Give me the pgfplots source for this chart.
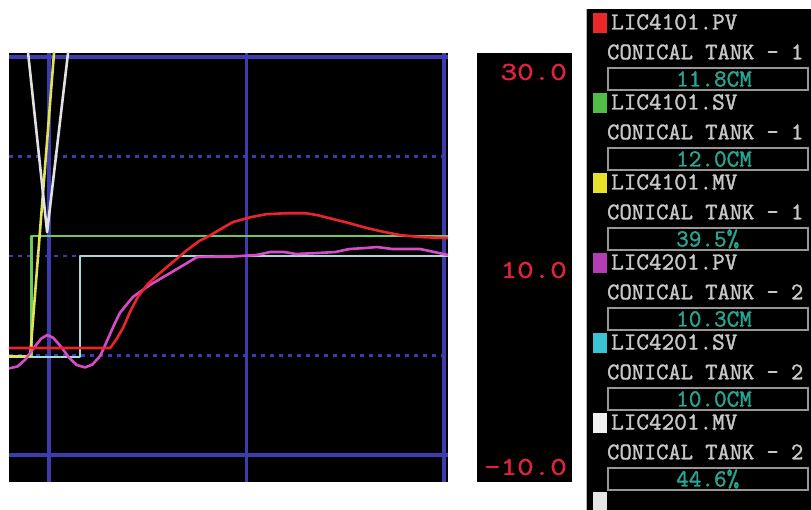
\documentclass[border=0pt]{standalone}
\usepackage{graphicx}
\usepackage{fontspec}
\newfontfamily\tagfont{Latin Modern Mono}[FakeBold=1.6]
\usepackage{pgfplots}
\pgfplotsset{compat=1.18}

% trend display palette
\definecolor{gridblue}{RGB}{60,60,175}
\definecolor{pvred}{RGB}{235,35,45}
\definecolor{svgreen}{RGB}{110,200,95}
\definecolor{mvyellow}{RGB}{225,225,90}
\definecolor{pvmag}{RGB}{215,75,200}
\definecolor{svcyan}{RGB}{165,215,215}
\definecolor{mvwhite}{RGB}{225,225,225}
\definecolor{scalered}{RGB}{225,35,60}
\definecolor{tagtext}{RGB}{200,200,200}
\definecolor{valteal}{RGB}{40,165,145}
\definecolor{boxgrey}{RGB}{150,150,150}
\definecolor{sqred}{RGB}{235,40,40}
\definecolor{sqgreen}{RGB}{80,190,70}
\definecolor{sqyellow}{RGB}{230,225,40}
\definecolor{sqmag}{RGB}{180,60,180}
\definecolor{sqcyan}{RGB}{60,195,210}
\definecolor{sqwhite}{RGB}{240,240,240}

\begin{document}
\begin{tikzpicture}[x=1pt,y=1pt]
\fill[white] (0,0) rectangle (811,510);

\begin{axis}[
  at={(9pt,28pt)}, anchor=south west,
  scale only axis, width=439pt, height=429pt,
  xmin=-2.03, xmax=20.2, ymin=-12.71, ymax=30.4,
  axis background/.style={fill=black},
  axis line style={draw=none},
  xtick={0,10,20}, ytick={-10,30},
  xticklabels={,,}, yticklabels={,},
  extra y ticks={0,10,20},
  extra y tick labels={,,},
  extra y tick style={grid=major, major grid style={gridblue, line width=2.2pt, dash pattern=on 4pt off 5pt}},
  major tick length=0pt,
  grid=major,
  every axis grid/.style={gridblue, line width=3.4pt},
  major grid style={gridblue, line width=3.4pt},
  every axis plot/.append style={line width=2.6pt, line join=round},
]
% set values
\addplot[svgreen] coordinates {(-2.03,-0.15) (-0.88,-0.15) (-0.88,12.0) (20.2,12.0)};
\addplot[svcyan] coordinates {(-2.03,-0.15) (1.57,-0.15) (1.57,10.0) (20.2,10.0)};
% manipulated values (mostly above the scale)
\addplot[mvyellow] coordinates {(-2.03,-0.1) (-0.96,-0.1) (0.25,30.4) (0.6,39.2) (20.2,39.5)};
\addplot[mvwhite] coordinates {(-2.03,48.5) (-0.10,12.4) (1.4,37.9) (2.0,44.6) (20.2,44.6)};
% process values
\addplot[pvmag] coordinates {
 (-2.03,-1.3) (-1.6,-1.1) (-1.2,-0.4) (-0.8,0.7) (-0.4,1.7) (-0.1,2.05)
 (0.2,1.8) (0.6,0.9) (1.0,-0.2) (1.4,-0.95) (1.82,-1.2) (2.2,-0.9)
 (2.6,0.0) (2.94,1.5) (3.25,2.9) (3.59,4.3) (4.25,5.9) (5.11,7.1)
 (5.97,8.1) (6.99,9.3) (7.49,9.9) (8.5,9.95) (9.3,9.95) (10.5,10.1)
 (11.2,10.4) (11.9,10.4) (12.5,10.2) (13.6,10.3) (14.5,10.4) (15.2,10.7)
 (16.0,10.8) (16.6,10.9) (17.4,10.7) (18.8,10.7) (19.5,10.4) (20.2,10.1)};
\addplot[pvred] coordinates {
 (-2.03,0.75) (3.09,0.75) (3.4,1.6) (3.75,2.8) (4.1,4.4) (4.5,5.9)
 (5.0,7.2) (5.5,8.1) (5.97,8.9) (6.99,10.6) (7.6,11.5) (8.0,11.9)
 (8.6,12.6) (9.3,13.4) (10.2,13.9) (11.0,14.2) (12.0,14.3) (13.0,14.3)
 (13.6,14.1) (14.4,13.7) (15.2,13.3) (16.1,12.8) (17.0,12.4) (17.8,12.1)
 (18.8,11.9) (20.2,11.8)};
\end{axis}

% scale panel
\fill[black] (477,28) rectangle (572,457);
\begin{scope}[every node/.style={anchor=east, inner sep=0pt, text=scalered,
    font=\tagfont\fontsize{25.7}{25.7}\selectfont}]
  \node at (567,438) {\scalebox{1.25}[1]{30.0}};
  \node at (567,240) {\scalebox{1.25}[1]{10.0}};
  \node at (567,43)  {\scalebox{1.25}[1]{-10.0}};
\end{scope}

% tag panel
\fill[black] (587,0) rectangle (811,501);
\draw[boxgrey!70, line width=1pt] (586.5,0) -- (586.5,501);
\begin{scope}
  \clip (587,0) rectangle (811,501);
  \foreach \i/\tag/\tank/\val/\col in {
      0/LIC4101.PV/1/11.8CM/sqred,
      1/LIC4101.SV/1/12.0CM/sqgreen,
      2/LIC4101.MV/1/39.5\%/sqyellow,
      3/LIC4201.PV/2/10.3CM/sqmag,
      4/LIC4201.SV/2/10.0CM/sqcyan,
      5/LIC4201.MV/2/44.6\%/sqwhite} {
    \pgfmathsetmacro{\dy}{80*\i}
    \fill[\col] (593,497-\dy) rectangle (607,477-\dy);
    \node[anchor=west, inner sep=0pt, text=tagtext,
      font=\tagfont\fontsize{24.5}{24.5}\selectfont] at (611,488-\dy) {\tag};
    \node[anchor=west, inner sep=0pt, text=tagtext,
      font=\tagfont\fontsize{23.8}{23.8}\selectfont] at (607,458-\dy) {CONICAL TANK - \tank};
    \draw[boxgrey, line width=1.5pt] (608,442-\dy) rectangle (808,420-\dy);
    \node[anchor=west, inner sep=0pt, text=valteal,
      font=\tagfont\fontsize{24.5}{24.5}\selectfont] at (676,431-\dy) {\val};
  }
  \fill[sqwhite!90!gray] (593,18) rectangle (607,0);
\end{scope}

\pgfresetboundingbox
\useasboundingbox (0,0) rectangle (811,510);
\end{tikzpicture}
\end{document}
